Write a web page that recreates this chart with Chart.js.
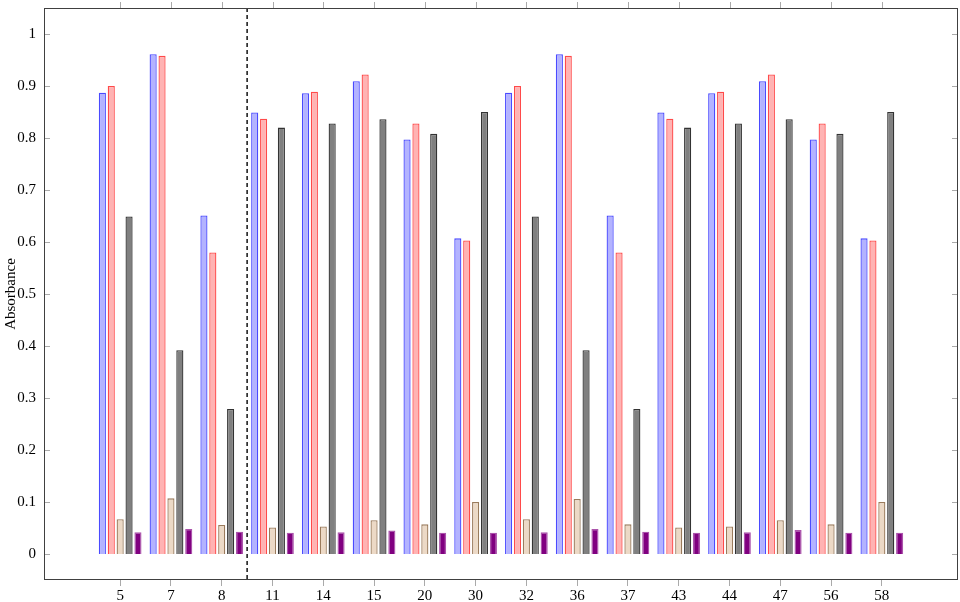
<!DOCTYPE html>
<html>
<head>
<meta charset="utf-8">
<script src="https://cdn.jsdelivr.net/npm/chart.js@4.4.1/dist/chart.umd.min.js"></script>
<style>
  html, body { margin: 0; padding: 0; background: #fff; }
  #wrap { width: 960px; height: 602px; position: relative; }
</style>
</head>
<body>
<div id="wrap"><canvas id="c" width="960" height="602"></canvas></div>
<script>
// ---- data ----
const categories = ['5', '7', '8', '11', '14', '15', '20', '30', '32', '36', '37', '43', '44', '47', '56', '58'];
const seriesBlue   = [0.887, 0.961, 0.651, 0.849, 0.886, 0.909, 0.797, 0.607, 0.887, 0.961, 0.651, 0.849, 0.886, 0.909, 0.797, 0.607];
const seriesRed    = [0.900, 0.958, 0.580, 0.837, 0.889, 0.922, 0.828, 0.603, 0.900, 0.958, 0.580, 0.837, 0.889, 0.922, 0.828, 0.603];
const seriesTan    = [0.067, 0.107, 0.056, 0.051, 0.053, 0.065, 0.057, 0.100, 0.067, 0.106, 0.057, 0.051, 0.053, 0.065, 0.057, 0.100];
const seriesGray   = [0.649, 0.392, 0.279, 0.820, 0.828, 0.836, 0.808, 0.850, 0.649, 0.392, 0.279, 0.820, 0.828, 0.836, 0.808, 0.850];
const seriesPurple = [0.042, 0.048, 0.043, 0.041, 0.042, 0.045, 0.041, 0.041, 0.042, 0.048, 0.043, 0.041, 0.042, 0.046, 0.041, 0.041];
const yTickValues = [0, 0.1, 0.2, 0.3, 0.4, 0.5, 0.6, 0.7, 0.8, 0.9, 1];
const yAxisTitle = 'Absorbance';
const separatorAfterIndex = 2; // dashed line between categories '8' and '11'

const FONT = "'Liberation Serif', 'DejaVu Serif', serif";
const toXY = arr => arr.map((v, i) => ({ x: i, y: v }));

function ds(data, fill, border) {
  return {
    data: toXY(data),
    backgroundColor: fill,
    borderColor: border,
    borderWidth: 1.3,
    categoryPercentage: 0.876,
    barPercentage: 0.8
  };
}

function zeroPad(scale) {
  scale.paddingTop = 0; scale.paddingBottom = 0;
  scale.paddingLeft = 0; scale.paddingRight = 0;
}

const framePlugin = {
  id: 'frame',
  afterDatasetsDraw(chart) {
    const { ctx, chartArea: a, scales } = chart;
    ctx.save();
    // dashed separator
    const xs = scales.x.getPixelForValue(separatorAfterIndex + 0.5);
    ctx.strokeStyle = '#000';
    ctx.lineWidth = 1.4;
    ctx.setLineDash([4, 3]);
    ctx.beginPath();
    ctx.moveTo(xs, a.top);
    ctx.lineTo(xs, a.bottom);
    ctx.stroke();
    ctx.setLineDash([]);
    // y ticks inside on both sides
    ctx.strokeStyle = '#aaaaaa';
    ctx.lineWidth = 1;
    yTickValues.forEach(v => {
      const y = Math.round(scales.y.getPixelForValue(v)) + 0.5;
      ctx.beginPath();
      ctx.moveTo(a.left, y); ctx.lineTo(a.left + 6, y);
      ctx.moveTo(a.right, y); ctx.lineTo(a.right - 6, y);
      ctx.stroke();
    });
    // x ticks outside on top
    categories.forEach((c, i) => {
      const x = Math.round(scales.x.getPixelForValue(i)) + 0.5;
      ctx.beginPath();
      ctx.moveTo(x, a.top); ctx.lineTo(x, a.top - 6);
      ctx.stroke();
    });
    // frame
    ctx.strokeStyle = '#404040';
    ctx.lineWidth = 1;
    ctx.strokeRect(Math.round(a.left) + 0.5, Math.round(a.top) + 0.5,
                   Math.round(a.right - a.left) - 1, Math.round(a.bottom - a.top) - 1);
    ctx.restore();
  }
};

new Chart(document.getElementById('c'), {
  type: 'bar',
  data: {
    datasets: [
      ds(seriesBlue,   'rgb(179,179,255)', '#4a4aff'),
      ds(seriesRed,    'rgb(255,179,179)', '#ff4a4a'),
      ds(seriesTan,    'rgb(236,217,198)', '#9a7b5c'),
      ds(seriesGray,   'rgb(128,128,128)', '#333333'),
      ds(seriesPurple, 'rgb(128,0,128)',   'rgba(150,40,150,0.8)')
    ]
  },
  options: {
    responsive: false,
    animation: false,
    devicePixelRatio: 1,
    layout: { padding: { top: 8, right: 2, left: 0, bottom: 0 } },
    plugins: { legend: { display: false }, tooltip: { enabled: false } },
    scales: {
      x: {
        type: 'linear',
        min: -1.5,
        max: 16.5,
        offset: false,
        afterBuildTicks(scale) {
          scale.ticks = categories.map((c, i) => ({ value: i }));
        },
        afterFit(scale) { scale.height = 22; zeroPad(scale); },
        ticks: {
          autoSkip: false,
          maxRotation: 0,
          padding: 1,
          color: '#000',
          font: { family: FONT, size: 15 },
          callback: v => categories[v] ?? ''
        },
        grid: {
          display: true,
          offset: false,
          drawOnChartArea: false,
          drawTicks: true,
          tickLength: 6,
          color: '#aaaaaa'
        },
        border: { display: false }
      },
      y: {
        min: -0.05,
        max: 1.05,
        afterBuildTicks(scale) {
          scale.ticks = yTickValues.map(v => ({ value: v }));
        },
        afterFit(scale) { scale.width = 44; zeroPad(scale); },
        ticks: {
          padding: 8,
          color: '#000',
          font: { family: FONT, size: 15 },
          callback: v => String(Math.round(v * 10) / 10)
        },
        grid: { display: false, drawTicks: false },
        border: { display: false },
        title: {
          display: true,
          text: yAxisTitle,
          color: '#000',
          font: { family: FONT, size: 15 },
          padding: { top: 2, bottom: 0 }
        }
      }
    }
  },
  plugins: [framePlugin]
});
</script>
</body>
</html>
